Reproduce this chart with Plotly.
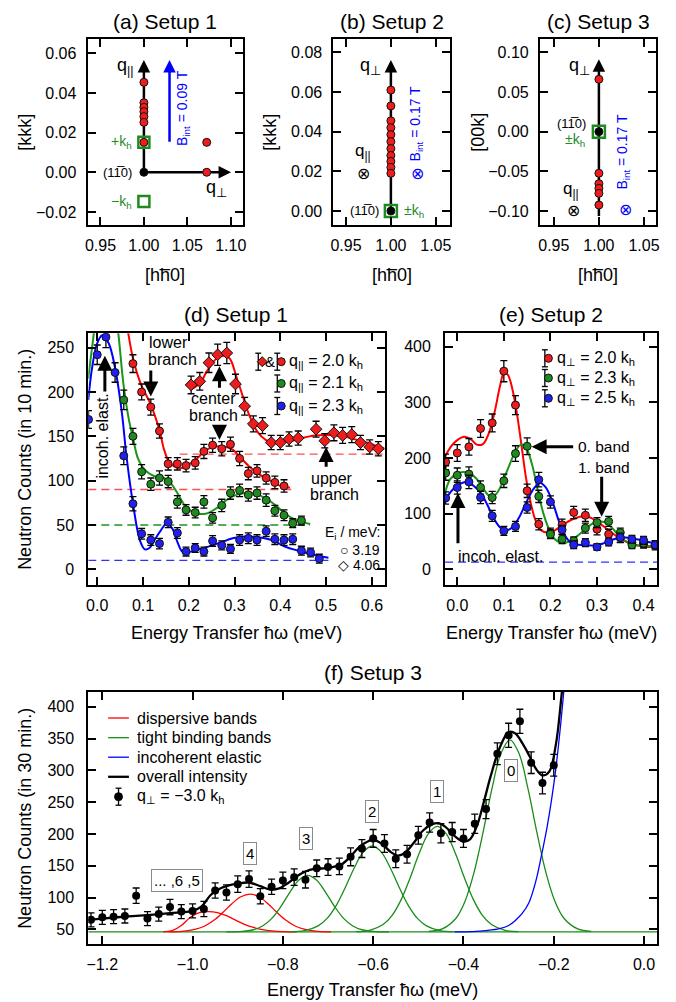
import plotly.graph_objects as go

# The page body adds an 8 px margin, so the figure is offset/sized to land on the 676x1002 window.
OFF = 8
W, H = 676 - OFF, 1002 - OFF
FONT = "Liberation Sans, Arial, Helvetica, sans-serif"
RED, GREEN, BLUE = "#ee1c1c", "#1f8a1f", "#2020f0"
RED_L, GREEN_L, BLUE_L = "#ff0000", "#1a961a", "#0000ff"
GF = "#1a8c1a"

def PX(v): return (v - OFF) / W
def PY(v): return 1 - (v - OFF) / H

# ---------------- data: top panels (reciprocal space) ----------------
a_h_red = [1.0, 1.0, 1.0, 1.0, 1.0, 1.0, 1.0, 1.0723, 1.0723]
a_k_red = [0.0454, 0.0351, 0.0328, 0.0306, 0.0281, 0.0252, 0.0151, 0.0151, 0.0]
a_h_kh = [1.0, 1.0]
a_k_kh = [0.0151, -0.0148]
b_h_red = [1.0, 1.0, 1.0, 1.0, 1.0, 1.0, 1.0, 1.0, 1.0, 1.0, 1.0]
b_k_red = [0.061, 0.053, 0.0455, 0.042, 0.0385, 0.035, 0.0315, 0.028, 0.025, 0.022, 0.019]
c_h_red = [1.0, 1.0, 1.0, 1.0, 1.0, 1.0]
c_k_red = [0.066, -0.0525, -0.0656, -0.0715, -0.0778, -0.0925]
origin_h = [1.0]
origin_k = [0.0]

# ---------------- data: (d) Setup 1 ----------------
d_e_blue = [-0.019, 0.0, 0.019, 0.039, 0.058, 0.078, 0.097, 0.117, 0.136, 0.155, 0.175, 0.194, 0.214, 0.233,
            0.252, 0.272, 0.291, 0.311, 0.330, 0.349, 0.369, 0.388, 0.408, 0.427, 0.446, 0.466, 0.485]
d_n_blue = [169, 242, 262, 222, 128, 74, 40, 33, 29, 53, 41, 20, 24, 20, 32, 27, 23, 33, 35, 33, 43, 34, 33, 34, 21, 19, 12]
d_err_blue = [10, 11, 12, 11, 10, 8, 6, 6, 6, 6, 6, 5, 5, 5, 6, 5, 5, 6, 6, 6, 6, 6, 6, 6, 5, 5, 5]
d_e_green = [0.058, 0.078, 0.097, 0.117, 0.136, 0.155, 0.175, 0.194, 0.214, 0.233, 0.252, 0.272, 0.291, 0.311,
             0.330, 0.349, 0.369, 0.388, 0.408, 0.427, 0.446]
d_n_green = [191, 150, 110, 96, 103, 99, 76, 67, 64, 76, 58, 72, 86, 89, 84, 86, 78, 66, 61, 52, 55]
d_err_green = [11, 9, 8, 7, 8, 7, 7, 6, 6, 7, 6, 7, 7, 7, 7, 7, 7, 6, 6, 5, 5]
d_e_red = [0.078, 0.097, 0.117, 0.136, 0.155, 0.175, 0.194, 0.214, 0.233, 0.252, 0.272, 0.291, 0.311, 0.330,
           0.349, 0.369, 0.388, 0.408]
d_n_red = [232, 200, 183, 156, 119, 119, 117, 120, 133, 140, 136, 141, 125, 108, 111, 103, 98, 94]
d_err_red = [10, 9, 9, 8, 7, 7, 7, 7, 8, 8, 8, 8, 8, 7, 7, 7, 7, 7]
d_e_dia = [0.205, 0.224, 0.244, 0.263, 0.283, 0.302, 0.322, 0.341, 0.361, 0.380, 0.400, 0.419, 0.439, 0.478,
           0.497, 0.517, 0.536, 0.556, 0.575, 0.595, 0.614]
d_n_dia = [208, 212, 233, 242, 244, 209, 184, 164, 162, 143, 143, 147, 148, 158, 145, 154, 151, 152, 143, 138, 136]
d_err_dia = [10, 10, 11, 12, 12, 11, 10, 9, 9, 8, 8, 8, 8, 9, 8, 9, 9, 9, 8, 8, 8]

d_fit_red_lo_e = [0.066, 0.079, 0.096, 0.116, 0.136, 0.146, 0.157, 0.168, 0.182, 0.196, 0.218, 0.239, 0.26,
                  0.282, 0.296, 0.311, 0.332, 0.354, 0.375, 0.396, 0.421]
d_fit_red_lo_n = [272, 236, 208, 187, 157, 135, 121, 116, 114, 117, 125, 135, 138.5, 138, 135, 127, 116, 107,
                  101, 95, 92]
d_fit_red_hi_e = [0.205, 0.225, 0.239, 0.261, 0.275, 0.289, 0.304, 0.318, 0.332, 0.35, 0.368, 0.389, 0.418,
                  0.446, 0.475, 0.501, 0.53, 0.56, 0.588, 0.628]
d_fit_red_hi_n = [203, 210, 223, 238, 241, 238, 217, 195, 174, 155, 146, 142.5, 144, 148, 151, 151.5, 150.5,
                  147, 143, 136]
d_fit_green_e = [-0.0195, -0.01, 0.0, 0.02, 0.04, 0.046, 0.057, 0.068, 0.079, 0.089, 0.104, 0.125, 0.146,
                 0.161, 0.175, 0.196, 0.218, 0.239, 0.261, 0.282, 0.304, 0.325, 0.346, 0.368, 0.389, 0.41,
                 0.432, 0.465]
d_fit_green_n = [215, 255, 290, 315, 285, 266, 210, 172, 146, 125, 112, 105, 103, 97, 86, 69, 63, 63, 69, 78,
                 84, 86, 85, 80, 72.5, 63, 56, 51]
d_fit_blue_e = [-0.0195, -0.011, 0.0, 0.011, 0.025, 0.039, 0.054, 0.064, 0.079, 0.093, 0.104, 0.114, 0.125,
                0.139, 0.152, 0.164, 0.175, 0.186, 0.2, 0.218, 0.239, 0.268, 0.296, 0.325, 0.354, 0.382, 0.411,
                0.439, 0.468, 0.505]
d_fit_blue_n = [191, 228, 255, 264, 255, 227, 176, 127, 71, 33, 22.5, 24, 33, 44, 52, 46, 31, 20, 19.5, 22, 25,
                30, 35, 37, 36, 33, 25.5, 21, 17, 13]
d_base_red_hi_e, d_base_red_hi_n = [0.18, 0.628], [130, 130]
d_base_red_lo_e, d_base_red_lo_n = [-0.0195, 0.425], [90, 90]
d_base_green_e, d_base_green_n = [-0.0195, 0.465], [50, 50]
d_base_blue_e, d_base_blue_n = [-0.0195, 0.505], [10, 10]

# ---------------- data: (e) Setup 2 ----------------
e_e = [-0.025, 0.0, 0.025, 0.05, 0.075, 0.1, 0.125, 0.15, 0.175, 0.2, 0.225, 0.25, 0.275, 0.3, 0.325, 0.35,
       0.375, 0.4, 0.425]
e_red = [193, 209, 220, 253, 263, 356, 295, 141, 81, 65, 80, 102, 97, 72, 63, 57, 48, 46, 43]
e_green = [173, 169, 171, 147, 129, 159, 208, 221, 131, 63, 54, 51, 74, 84, 86, 66, 44, 47, 44]
e_blue = [128, 147, 157, 129, 96, 69, 77, 111, 161, 121, 71, 44, 48, 40, 49, 57, 54, 52, 44]
e_err_red = [14, 15, 15, 16, 16, 19, 17, 12, 10, 9, 10, 11, 11, 10, 9, 9, 8, 8, 8]
e_err_green = [13, 13, 13, 12, 11, 12, 14, 15, 11, 8, 8, 7, 9, 9, 9, 8, 7, 7, 7]
e_err_blue = [11, 12, 12, 11, 10, 8, 9, 10, 13, 11, 8, 7, 7, 6, 7, 8, 7, 7, 7]

e_fit_red_e = [-0.026, -0.012, 0.0, 0.015, 0.03, 0.042, 0.055, 0.068, 0.08, 0.092, 0.1, 0.108, 0.118, 0.128,
               0.138, 0.148, 0.158, 0.168, 0.18, 0.192, 0.205, 0.222, 0.245, 0.268, 0.285, 0.305, 0.325, 0.35,
               0.375, 0.4, 0.429]
e_fit_red_n = [203, 222, 232, 238, 233, 224, 225, 245, 282, 330, 352, 350, 325, 280, 222, 162, 118, 88, 70, 66,
               68, 77, 89, 95, 93, 83, 70, 55, 45, 41, 40]
e_fit_green_e = [-0.026, -0.015, 0.0, 0.012, 0.025, 0.04, 0.055, 0.07, 0.082, 0.095, 0.11, 0.125, 0.137, 0.148,
                 0.16, 0.172, 0.185, 0.198, 0.212, 0.225, 0.24, 0.258, 0.275, 0.292, 0.305, 0.318, 0.335, 0.35,
                 0.37, 0.39, 0.429]
e_fit_green_n = [138, 162, 172, 175, 173, 164, 146, 131, 134, 152, 183, 212, 224, 218, 190, 145, 100, 70, 52, 47,
                 50, 60, 72, 83, 86, 84, 72, 58, 47, 43, 42]
e_fit_blue_e = [-0.026, -0.01, 0.005, 0.02, 0.035, 0.052, 0.065, 0.078, 0.092, 0.105, 0.118, 0.132, 0.148, 0.165,
                0.178, 0.19, 0.205, 0.218, 0.232, 0.245, 0.26, 0.28, 0.3, 0.318, 0.34, 0.36, 0.385, 0.41, 0.429]
e_fit_blue_n = [125, 143, 153, 157, 150, 135, 115, 92, 75, 70, 75, 92, 120, 146, 155, 147, 120, 87, 60, 47, 44,
                43, 43, 48, 55, 57, 54, 49, 46]
e_base_e, e_base_n = [-0.0262, 0.4291], [13, 13]

# ---------------- data: (f) Setup 3 ----------------
f_e = [-1.225, -1.2, -1.175, -1.15, -1.125, -1.1, -1.075, -1.05, -1.025, -1.0, -0.975, -0.95, -0.925, -0.9,
       -0.875, -0.85, -0.825, -0.8, -0.775, -0.75, -0.725, -0.7, -0.675, -0.65, -0.625, -0.6, -0.575, -0.55,
       -0.525, -0.5, -0.475, -0.45, -0.425, -0.4, -0.375, -0.35, -0.325, -0.3, -0.275, -0.25, -0.225, -0.2]
f_n = [65, 69, 70, 71, 103, 67, 74, 85, 78, 79, 82, 111, 108, 121, 129, 102, 117, 127, 132, 128, 146, 148, 149,
       164, 177, 193, 185, 161, 168, 198, 218, 201, 203, 193, 216, 239, 326, 355, 377, 312, 280, 308]
f_err = [11, 11, 11, 11, 12, 11, 11, 12, 11, 11, 12, 12, 12, 13, 13, 12, 12, 13, 13, 13, 13, 13, 13, 14, 14,
         14, 14, 14, 14, 14, 15, 15, 15, 14, 15, 15, 17, 19, 19, 17, 17, 17]

f_g0_e = [-0.477, -0.447, -0.417, -0.397, -0.377, -0.357, -0.337, -0.317, -0.297, -0.277, -0.257, -0.237,
          -0.217, -0.197, -0.177, -0.147, -0.117]
f_g0_n = [46.8, 50.7, 67.1, 93.4, 138.4, 201.2, 270.7, 326.6, 348, 326.6, 270.7, 201.2, 138.4, 93.4, 67.1, 50.7, 46.8]
f_g1_e = [-0.638, -0.608, -0.578, -0.558, -0.538, -0.518, -0.498, -0.478, -0.458, -0.438, -0.418, -0.398,
          -0.378, -0.358, -0.338, -0.308, -0.278]
f_g1_n = [46.4, 48.6, 57.6, 72.1, 96.8, 131.3, 169.5, 200.2, 212, 200.2, 169.5, 131.3, 96.8, 72.1, 57.6, 48.6, 46.4]
f_g2_e = [-0.782, -0.752, -0.722, -0.702, -0.682, -0.662, -0.642, -0.622, -0.602, -0.582, -0.562, -0.542,
          -0.522, -0.502, -0.482, -0.452, -0.422]
f_g2_n = [46.3, 48.1, 55.5, 67.2, 87.3, 115.4, 146.4, 171.4, 181, 171.4, 146.4, 115.4, 87.3, 67.2, 55.5, 48.1, 46.3]
f_g3_e = [-0.925, -0.895, -0.865, -0.845, -0.825, -0.805, -0.785, -0.765, -0.745, -0.725, -0.705, -0.685,
          -0.665, -0.645, -0.625, -0.595, -0.565]
f_g3_n = [46.1, 46.5, 49.4, 55.3, 66.9, 85.4, 107.9, 127.3, 135, 127.3, 107.9, 85.4, 66.9, 55.3, 49.4, 46.5, 46.1]
f_r4_e = [-1.053, -1.023, -0.993, -0.973, -0.953, -0.933, -0.913, -0.893, -0.873, -0.853, -0.833, -0.813,
          -0.793, -0.773, -0.753, -0.723, -0.693]
f_r4_n = [46.1, 46.9, 50.2, 55.3, 64.2, 76.6, 90.3, 101.3, 105.5, 101.3, 90.3, 76.6, 64.2, 55.3, 50.2, 46.9, 46.1]
f_r5_e = [-1.065, -1.045, -1.025, -1.005, -0.985, -0.965, -0.945, -0.925, -0.905, -0.885, -0.865, -0.845,
          -0.825, -0.80, -0.77]
f_r5_n = [46, 48, 56, 69, 76.5, 78, 76.5, 71.5, 64.5, 58, 53, 49.5, 47.5, 46.3, 46]
f_blue_e = [-0.42, -0.38, -0.35, -0.32, -0.30, -0.285, -0.27, -0.255, -0.24, -0.227, -0.215, -0.205, -0.195,
            -0.185, -0.177, -0.17]
f_blue_n = [46, 46.5, 48, 51, 56, 64, 75, 92, 125, 167, 210, 253, 305, 370, 430, 490]
f_base_e, f_base_n = [-1.231, 0.029], [46, 46]
f_tot_e = [-1.231, -1.2, -1.15, -1.1, -1.05, -1.0, -0.98, -0.96, -0.94, -0.92, -0.9, -0.875, -0.85, -0.83,
           -0.81, -0.79, -0.77, -0.75, -0.73, -0.71, -0.69, -0.67, -0.65, -0.63, -0.61, -0.6, -0.58, -0.56,
           -0.545, -0.53, -0.51, -0.49, -0.47, -0.455, -0.44, -0.42, -0.40, -0.385, -0.37, -0.355, -0.34,
           -0.32, -0.30, -0.285, -0.27, -0.255, -0.24, -0.225, -0.21, -0.195, -0.183, -0.175]
f_tot_n = [65, 67, 70, 72.5, 75.5, 79, 86, 104, 114, 119, 122, 123.5, 118, 113, 114, 122, 133, 141, 145, 146,
           148, 152, 165, 180, 189, 191, 184, 171, 166, 170, 186, 205, 215, 217, 211, 197, 188, 192, 213, 250,
           290, 335, 360, 358, 343, 324, 303, 292, 298, 342, 416, 470]

# legend labels
d_labels = ["q<sub>||</sub> = 2.0 k<sub>h</sub>", "q<sub>||</sub> = 2.1 k<sub>h</sub>",
            "q<sub>||</sub> = 2.3 k<sub>h</sub>"]
e_labels = ["q<sub>⊥</sub> = 2.0 k<sub>h</sub>", "q<sub>⊥</sub> = 2.3 k<sub>h</sub>",
            "q<sub>⊥</sub> = 2.5 k<sub>h</sub>"]
f_labels = ["dispersive bands", "tight binding bands", "incoherent elastic", "overall intensity",
            "q<sub>⊥</sub> = −3.0 k<sub>h</sub>"]

# ---------------- figure ----------------
fig = go.Figure()


def err(arr):
    return dict(type="data", array=arr, visible=True, color="black", thickness=1.3, width=3.5)


def points(x, y, e, color, ax, symbol="circle", size=8, name=None):
    fig.add_trace(go.Scatter(
        x=x, y=y, mode="markers", error_y=err(e) if e is not None else None,
        marker=dict(symbol=symbol, size=size, color=color, line=dict(color="#111111", width=1)),
        xaxis="x" + ax, yaxis="y" + ax, name=name, showlegend=False))


def curve(x, y, color, ax, width=2.0, dash=None, shape="spline", name=None):
    fig.add_trace(go.Scatter(
        x=x, y=y, mode="lines", line=dict(color=color, width=width, dash=dash, shape=shape, smoothing=1.0),
        xaxis="x" + ax, yaxis="y" + ax, name=name, showlegend=False, hoverinfo="skip"))


# top panels: markers
for ax, hx, ky in (("", a_h_red, a_k_red), ("2", b_h_red, b_k_red), ("3", c_h_red, c_k_red)):
    points(hx, ky, None, RED, ax)
    points(origin_h, origin_k, None, "black", ax)
fig.add_trace(go.Scatter(x=a_h_kh, y=a_k_kh, mode="markers", xaxis="x", yaxis="y", showlegend=False,
                         marker=dict(symbol="square-open", size=11, color=GREEN, line=dict(width=2.5, color=GREEN))))
for ax in ("2", "3"):
    fig.add_trace(go.Scatter(x=origin_h, y=origin_k, mode="markers", xaxis="x" + ax, yaxis="y" + ax,
                             showlegend=False,
                             marker=dict(symbol="square-open", size=12, color=GREEN,
                                         line=dict(width=2.5, color=GREEN))))

# (d)
dash = "8px,5px"
curve(d_base_red_hi_e, d_base_red_hi_n, "#ff5050", "4", width=1.3, dash=dash, shape="linear")
curve(d_base_red_lo_e, d_base_red_lo_n, "#ff5050", "4", width=1.3, dash=dash, shape="linear")
curve(d_base_green_e, d_base_green_n, GREEN_L, "4", width=1.3, dash=dash, shape="linear")
curve(d_base_blue_e, d_base_blue_n, "#3030ff", "4", width=1.3, dash=dash, shape="linear")
curve(d_fit_red_lo_e, d_fit_red_lo_n, RED_L, "4")
curve(d_fit_red_hi_e, d_fit_red_hi_n, RED_L, "4")
curve(d_fit_green_e, d_fit_green_n, GREEN_L, "4")
curve(d_fit_blue_e, d_fit_blue_n, BLUE_L, "4")
points(d_e_dia, d_n_dia, d_err_dia, RED, "4", symbol="diamond", size=9, name=d_labels[0] + " (4.06 meV)")
points(d_e_red, d_n_red, d_err_red, RED, "4", name=d_labels[0])
points(d_e_green, d_n_green, d_err_green, GREEN, "4", name=d_labels[1])
points(d_e_blue, d_n_blue, d_err_blue, BLUE, "4", name=d_labels[2])

# (e)
curve(e_base_e, e_base_n, "#3030ff", "5", width=1.3, dash=dash, shape="linear")
curve(e_fit_red_e, e_fit_red_n, RED_L, "5")
curve(e_fit_green_e, e_fit_green_n, GREEN_L, "5")
curve(e_fit_blue_e, e_fit_blue_n, BLUE_L, "5")
points(e_e, e_red, e_err_red, RED, "5", name=e_labels[0])
points(e_e, e_green, e_err_green, GREEN, "5", name=e_labels[1])
points(e_e, e_blue, e_err_blue, BLUE, "5", name=e_labels[2])

# (f)
curve(f_base_e, f_base_n, GF, "6", width=1.3, shape="linear", name=f_labels[1])
curve(f_r5_e, f_r5_n, RED_L, "6", width=1.3, name=f_labels[0])
curve(f_r4_e, f_r4_n, RED_L, "6", width=1.3, name=f_labels[0])
for gx, gy in ((f_g3_e, f_g3_n), (f_g2_e, f_g2_n), (f_g1_e, f_g1_n), (f_g0_e, f_g0_n)):
    curve(gx, gy, GF, "6", width=1.3, name=f_labels[1])
curve(f_blue_e, f_blue_n, BLUE_L, "6", width=1.3, name=f_labels[2])
curve(f_tot_e, f_tot_n, "black", "6", width=2.3, name=f_labels[3])
fig.add_trace(go.Scatter(x=f_e, y=f_n, mode="markers", error_y=err(f_err), xaxis="x6", yaxis="y6",
                         marker=dict(size=8, color="black"), name=f_labels[4], showlegend=False))

# ---------------- axes ----------------
def axis(dom, rng, dtick, fmt, standoff, tick0=0):
    return dict(domain=dom, range=rng, dtick=dtick, tick0=tick0, tickformat=fmt, showline=True, linewidth=2,
                linecolor="black", mirror="ticks", ticks="inside", ticklen=8, tickwidth=1.5, tickcolor="black",
                showgrid=False, zeroline=False, tickfont=dict(size=16, color="black"),
                ticklabelstandoff=standoff, fixedrange=True)

ytop = [PY(225), PY(39.3)]
ymid = [PY(585), PY(333.3)]
ybot = [PY(944), PY(692)]
fig.update_layout(
    xaxis=axis([PX(85.3), PX(242.3)], [0.9352, 1.1143], 0.05, ".2f", 5),
    yaxis=axis(ytop, [-0.0266, 0.0671], 0.02, ".2f", 6),
    xaxis2=axis([PX(333.3), PX(451)], [0.936, 1.0658], 0.05, ".2f", 5),
    yaxis2=axis(ytop, [-0.00706, 0.0866], 0.02, ".2f", 6),
    xaxis3=axis([PX(541.7), PX(659.3)], [0.9346, 1.0638], 0.05, ".2f", 5),
    yaxis3=axis(ytop, [-0.1177, 0.1164], 0.05, ".2f", 6),
    xaxis4=axis([PX(86), PX(385)], [-0.0195, 0.6277], 0.1, ".1f", 5),
    yaxis4=axis(ymid, [-17.7, 266.2], 50, "d", 9),
    xaxis5=axis([PX(446), PX(660)], [-0.0262, 0.4291], 0.1, ".1f", 5),
    yaxis5=axis(ymid, [-28.2, 424], 100, "d", 9),
    xaxis6=axis([PX(86), PX(660)], [-1.231, 0.029], 0.2, ".1f", 5),
    yaxis6=axis(ybot, [27, 423.1], 50, "d", 9),
)
for i in ("", "2", "3", "4", "5", "6"):
    fig.layout["xaxis" + i].anchor = "y" + i
    fig.layout["yaxis" + i].anchor = "x" + i

# ---------------- annotations / shapes ----------------
ann = []
shapes = []


def T(text, x, y, ref="paper", size=16, color="black", xanchor="center", yanchor="middle", angle=0, **kw):
    d = dict(text=text, x=x, y=y, showarrow=False, font=dict(size=size, color=color, family=FONT),
             xanchor=xanchor, yanchor=yanchor, textangle=angle)
    if ref == "paper":
        d.update(xref="paper", yref="paper")
    else:
        d.update(xref="x" + ref, yref="y" + ref)
    d.update(kw)
    ann.append(d)


def A(x, y, ax_, ay_, ref, color="black", width=3, size=1.0, head=2):
    ann.append(dict(text="", x=x, y=y, ax=ax_, ay=ay_, xref="x" + ref, yref="y" + ref, axref="x" + ref,
                    ayref="y" + ref, showarrow=True, arrowhead=head, arrowsize=size, arrowwidth=width,
                    arrowcolor=color, standoff=0, startstandoff=0))


def L(x0, y0, x1, y1, ref, width=2.5, color="black"):
    shapes.append(dict(type="line", x0=x0, y0=y0, x1=x1, y1=y1, xref="x" + ref, yref="y" + ref,
                       line=dict(color=color, width=width), layer="below"))


# legend glyphs drawn in page pixels
def pline(x0, y0, x1, y1, color="black", width=1.3):
    shapes.append(dict(type="line", xref="paper", yref="paper", x0=PX(x0), x1=PX(x1), y0=PY(y0), y1=PY(y1),
                       line=dict(color=color, width=width)))


def pbar(x, y, h=8.5):
    pline(x, y - h, x, y + h)
    pline(x - 3, y - h, x + 3, y - h)
    pline(x - 3, y + h, x + 3, y + h)


def pdot(x, y, color, r=4):
    shapes.append(dict(type="circle", xref="paper", yref="paper", x0=PX(x - r), x1=PX(x + r), y0=PY(y + r),
                       y1=PY(y - r), fillcolor=color, line=dict(color="#111111", width=1)))


def pdiamond(x, y, color, r=5):
    path = "M {},{} L {},{} L {},{} L {},{} Z".format(PX(x - r), PY(y), PX(x), PY(y - r), PX(x + r), PY(y),
                                                      PX(x), PY(y + r))
    shapes.append(dict(type="path", xref="paper", yref="paper", path=path, fillcolor=color,
                       line=dict(color="#111111", width=1)))


# titles
T("(a) Setup 1", PX(163.8), PY(22), size=21)
T("(b) Setup 2", PX(392.2), PY(22), size=21)
T("(c) Setup 3", PX(600.5), PY(22), size=21)
T("(d) Setup 1", PX(235.5), PY(315), size=21)
T("(e) Setup 2", PX(553), PY(314), size=21)
T("(f) Setup 3", PX(373), PY(672), size=21)
# axis titles
HB = "[hh\u03050]"
for xc, yl, xl in ((163.8, "[kkk]", 22), (392.2, "[kkk]", 269), (600.5, "[00k]", 479)):
    T(HB, PX(xc), PY(275), size=18)
    T(yl, PX(xl), PY(132), size=18, angle=-90)
T("Neutron Counts (in 10 min.)", PX(22), PY(459), size=18, angle=-90)
T("Energy Transfer ħω (meV)", PX(235.5), PY(633), size=18)
T("Energy Transfer ħω (meV)", PX(553), PY(633), size=18)
T("Neutron Counts (in 30 min.)", PX(22), PY(818), size=18, angle=-90)
T("Energy Transfer ħω (meV)", PX(373), PY(990), size=18)

MILLER = "(11\u03050)"
# (a)
L(1.0, 0.0, 1.0, 0.052, "")
A(1.0, 0.0566, 1.0, 0.050, "", width=2.5)
L(1.0, 0.0, 1.09, 0.0, "")
A(1.1003, 0.0, 1.09, 0.0, "", width=2.5)
T("q<sub>||</sub>", 0.979, 0.0533, "", size=18)
T("q<sub>⊥</sub>", 1.0833, -0.0081, "", size=18)
T(MILLER, 0.9886, 0.0, "", size=13, xanchor="right")
T("+k<sub>h</sub>", 0.9886, 0.0151, "", size=14, color=GREEN, xanchor="right")
T("−k<sub>h</sub>", 0.9886, -0.0148, "", size=14, color=GREEN, xanchor="right")
A(1.0295, 0.0566, 1.0295, 0.0146, "", color=BLUE_L, width=2.5)
T("B<sub>int</sub> = 0.09 T", 1.0455, 0.0327, "", size=14, color=BLUE_L, angle=-90)
# (b)
L(1.0, 0.0, 1.0, 0.070, "2")
A(1.0, 0.0761, 1.0, 0.069, "2", width=2.5)
T("q<sub>⊥</sub>", 0.977, 0.0727, "2", size=18)
T("q<sub>||</sub>", 0.9694, 0.0300, "2", size=17)
T("⊗", 0.9694, 0.0190, "2", size=16)
T(MILLER, 0.989, 0.0, "2", size=13, xanchor="right")
T("±k<sub>h</sub>", 1.0128, 0.0, "2", size=14, color=GREEN, xanchor="left")
T("⊗", 1.0301, 0.0190, "2", size=16, color=BLUE_L)
T("B<sub>int</sub> = 0.17 T", 1.0276, 0.0440, "2", size=14, color=BLUE_L, angle=-90)
# (c)
L(1.0, -0.1064, 1.0, 0.080, "3")
A(1.0, 0.0912, 1.0, 0.078, "3", width=2.5)
T("q<sub>⊥</sub>", 0.9788, 0.0827, "3", size=18)
T(MILLER, 0.970, 0.0100, "3", size=13)
T("±k<sub>h</sub>", 0.9733, -0.0105, "3", size=14, color=GREEN)
T("q<sub>||</sub>", 0.9696, -0.0730, "3", size=17)
T("⊗", 0.9714, -0.0995, "3", size=16)
T("⊗", 1.030, -0.0985, "3", size=16, color=BLUE_L)
T("B<sub>int</sub> = 0.17 T", 1.0264, -0.0255, "3", size=14, color=BLUE_L, angle=-90)

# (d)
T("lower", 0.156, 255.3, "4", size=16)
T("branch", 0.1645, 236.1, "4", size=16)
A(0.117, 195, 0.117, 226, "4")
T("incoh. elast.", 0.011, 150, "4", size=16, angle=-90)
A(0.0167, 241, 0.0167, 199, "4")
T("center", 0.2543, 192.1, "4", size=16)
T("branch", 0.2543, 173.0, "4", size=16)
A(0.267, 229, 0.267, 203, "4")
A(0.267, 146, 0.267, 160, "4")
T("upper", 0.512, 102.7, "4", size=16)
T("branch", 0.519, 84.6, "4", size=16)
A(0.500, 138, 0.500, 114, "4")
T("E<sub>i</sub> / meV:", 0.621, 41, "4", size=14, xanchor="right")
T("○ 3.19", 0.621, 21.8, "4", size=14, xanchor="right")
T("◇ 4.06", 0.621, 4.9, "4", size=14, xanchor="right")
# (d) legend
d_rows = [361.7, 383.5, 406]
pbar(257.5, d_rows[0])
pdiamond(261.5, d_rows[0], RED)
T("&", PX(269.3), PY(d_rows[0]), size=15)
for yy, col, lab in zip(d_rows, [RED, GREEN, BLUE], d_labels):
    pbar(276.7, yy)
    pdot(280.7, yy, col)
    T(lab, PX(286.7), PY(yy), size=16, xanchor="left")

# (e)
T("0. band", 0.2547, 221.5, "5", size=15.5, xanchor="left")
A(0.1596, 220, 0.252, 220, "5")
T("1. band", 0.2547, 183.6, "5", size=15.5, xanchor="left")
A(0.31, 94.5, 0.31, 169, "5")
T("incoh. elast.", -0.0034, 23.9, "5", size=16, xanchor="left")
A(0.0015, 137, 0.0015, 44, "5")
# (e) legend
for yy, col, lab in zip([358.3, 378, 398.3], [RED, GREEN, BLUE], e_labels):
    pbar(546.7, yy)
    pdot(550.3, yy, col)
    T(lab, PX(556.7), PY(yy), size=16, xanchor="left")

# (f) boxed band labels
for txt_, bx, by in (("4", -0.872, 170), ("3", -0.748, 193), ("... ,6 ,5", -1.034, 127.5), ("2", -0.603, 236),
                     ("1", -0.459, 266), ("0", -0.294, 300.5)):
    T(txt_, bx, by, "6", size=15, bordercolor="#8a8a8a", borderwidth=1, borderpad=2, bgcolor="white")
# (f) legend
f_rows = [718, 737.7, 757.2, 776.8, 796.7]
for yy, col, wd, lab in zip(f_rows[:4], [RED_L, GF, BLUE_L, "black"], [1.3, 1.3, 1.3, 2.3], f_labels[:4]):
    pline(106, yy, 127, yy, color=col, width=wd)
    T(lab, PX(133), PY(yy), size=16, xanchor="left")
pbar(116.5, f_rows[4])
shapes.append(dict(type="circle", xref="paper", yref="paper", x0=PX(112.5), x1=PX(120.5), y0=PY(f_rows[4] + 4),
                   y1=PY(f_rows[4] - 4), fillcolor="black", line=dict(color="black", width=1)))
T(f_labels[4], PX(133), PY(f_rows[4]), size=16, xanchor="left")

fig.update_layout(
    width=W, height=H, margin=dict(l=0, r=0, t=0, b=0), paper_bgcolor="white", plot_bgcolor="white",
    font=dict(family=FONT, color="black", size=16), showlegend=False,
    annotations=ann, shapes=shapes, hovermode=False,
)
fig.write_html("out.html")
